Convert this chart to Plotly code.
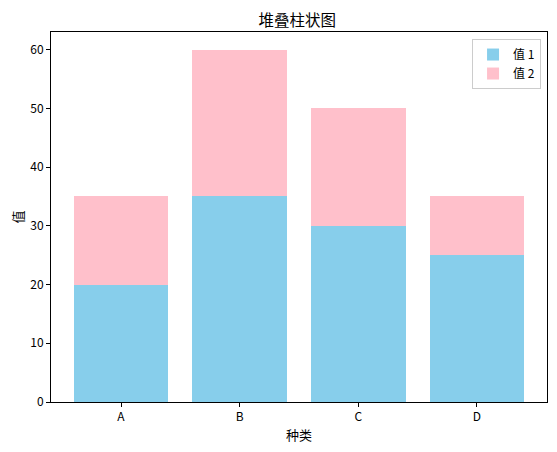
import plotly.graph_objects as go

categories = ["A", "B", "C", "D"]
values_1 = [20, 35, 30, 25]
values_2 = [15, 25, 20, 10]

FONT = "Noto Sans CJK SC, SimHei, sans-serif"

fig = go.Figure()
fig.add_trace(go.Bar(
    x=categories, y=values_1, name="值 1",
    marker=dict(color="#87CEEB", line=dict(width=0)),
))
fig.add_trace(go.Bar(
    x=categories, y=values_2, name="值 2",
    marker=dict(color="#FFC0CB", line=dict(width=0)),
))

axis_style = dict(
    showline=True, linecolor="black", linewidth=1, mirror=True,
    ticks="outside", ticklen=4, tickcolor="black",
    showgrid=False, zeroline=False, automargin=False,
    tickfont=dict(family=FONT, size=12, color="black"),
)

# page body has an 8px margin, so the figure is sized to fit the window
fig.update_layout(
    barmode="stack",
    bargap=0.2,
    width=549, height=444,
    margin=dict(l=43, r=10, t=24, b=50),
    plot_bgcolor="white", paper_bgcolor="white",
    font=dict(family=FONT, size=13, color="black"),
    title=dict(text="堆叠柱状图", x=0.527, xanchor="center", y=0.971, yanchor="middle",
               font=dict(family=FONT, size=15.5, color="black")),
    xaxis=dict(axis_style, range=[-0.59, 3.59],
               title=dict(text="种类", font=dict(family=FONT, size=13), standoff=7)),
    yaxis=dict(axis_style, range=[0, 63], dtick=10,
               title=dict(text="值", font=dict(family=FONT, size=13), standoff=9)),
    legend=dict(x=0.988, y=0.981, xanchor="right", yanchor="top",
                bgcolor="rgba(255,255,255,0.8)", bordercolor="#cccccc", borderwidth=1,
                font=dict(family=FONT, size=12), traceorder="normal"),
    showlegend=True,
)

fig.write_html("out.html")
